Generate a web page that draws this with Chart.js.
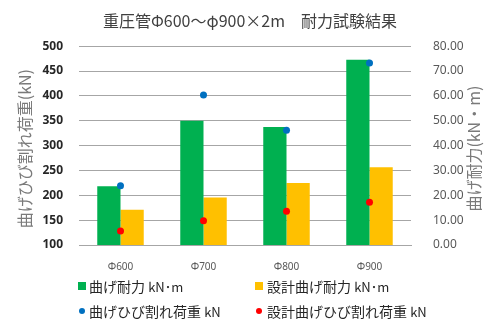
<!DOCTYPE html>
<html>
<head>
<meta charset="utf-8">
<script src="https://cdn.jsdelivr.net/npm/chart.js@4/dist/chart.umd.min.js"></script>
<style>
  body { margin: 0; background: #fff; }
  #wrap { position: relative; width: 500px; height: 328px; }
  .lg { position: absolute; font: 14px "Noto Sans CJK JP", sans-serif; color: #262626; white-space: nowrap; line-height: 16px; }
  .lg span { font-size: 13px; }
  .sq { position: absolute; width: 8px; height: 8px; }
  .dot { position: absolute; width: 6px; height: 6px; border-radius: 50%; }
</style>
</head>
<body>
<div id="wrap">
  <canvas id="chart" width="500" height="328"></canvas>
  <div class="sq" style="left:78px;top:282px;background:#00B050"></div>
  <div class="lg" style="left:89px;top:278px">曲げ耐力 <span>kN･m</span></div>
  <div class="sq" style="left:255px;top:282px;background:#FFC000"></div>
  <div class="lg" style="left:267px;top:278px">設計曲げ耐力 <span>kN･m</span></div>
  <div class="dot" style="left:79px;top:308px;background:#0070C0"></div>
  <div class="lg" style="left:89px;top:303px">曲げひび割れ荷重 <span>kN</span></div>
  <div class="dot" style="left:256px;top:308px;background:#FF0000"></div>
  <div class="lg" style="left:267px;top:303px">設計曲げひび割れ荷重 <span>kN</span></div>
</div>
<script>
const categories = ["Φ600", "Φ700", "Φ800", "Φ900"];
// kN・m (right axis)
const bendStrength = [23.6, 50.0, 47.5, 74.5];
const designBendStrength = [14.2, 19.1, 25.0, 31.3];
// kN (left axis)
const crackLoad = [219, 402, 331, 466];
const designCrackLoad = [128, 149, 168, 186];

const leftMin = 100, leftMax = 500, leftStep = 50;
const rightMin = 0, rightMax = 80, rightStep = 10;

// rotated axis titles, both reading bottom to top
const axisTitles = {
  id: "axisTitles",
  afterDraw(chart) {
    const { ctx, chartArea } = chart;
    const mid = (chartArea.top + chartArea.bottom) / 2 + 3;
    ctx.save();
    ctx.font = '16px "Noto Sans CJK JP"';
    ctx.fillStyle = "#7a7a7a";
    ctx.textAlign = "center";
    ctx.textBaseline = "middle";
    [[25, "曲げひび割れ荷重(kN)"], [474, "曲げ耐力(kN・m)"]].forEach(([x, t]) => {
      ctx.save();
      ctx.translate(x, mid);
      ctx.rotate(-Math.PI / 2);
      ctx.fillText(t, 0, 0);
      ctx.restore();
    });
    ctx.restore();
  }
};

new Chart(document.getElementById("chart"), {
  type: "bar",
  data: {
    labels: categories,
    datasets: [
      {
        type: "line",
        label: "曲げひび割れ荷重 kN",
        data: crackLoad,
        yAxisID: "y",
        showLine: false,
        pointRadius: 3.5,
        pointBackgroundColor: "#0070C0",
        pointBorderWidth: 0
      },
      {
        type: "line",
        label: "設計曲げひび割れ荷重 kN",
        data: designCrackLoad,
        yAxisID: "y",
        showLine: false,
        pointRadius: 3.5,
        pointBackgroundColor: "#FF0000",
        pointBorderWidth: 0
      },
      {
        label: "曲げ耐力 kN・m",
        data: bendStrength,
        yAxisID: "y1",
        backgroundColor: "#00B050",
        barPercentage: 1,
        categoryPercentage: 0.56
      },
      {
        label: "設計曲げ耐力 kN・m",
        data: designBendStrength,
        yAxisID: "y1",
        backgroundColor: "#FFC000",
        barPercentage: 1,
        categoryPercentage: 0.56
      }
    ]
  },
  options: {
    responsive: false,
    animation: false,
    layout: { padding: 0 },
    plugins: {
      legend: { display: false },
      tooltip: { enabled: false },
      title: {
        display: true,
        text: "重圧管Φ600～φ900×2m　耐力試験結果",
        color: "#404040",
        font: { family: "Noto Sans CJK JP", size: 16, weight: "normal" },
        padding: { top: 11, bottom: 16 }
      }
    },
    scales: {
      x: {
        grid: { display: false },
        border: { display: true, color: "#a6a6a6" },
        ticks: {
          color: "#595959",
          padding: 8,
          font: { family: "Noto Sans", size: 10 }
        },
        afterFit: (s) => { s.height = 83; }
      },
      y: {
        position: "left",
        min: leftMin,
        max: leftMax,
        ticks: {
          stepSize: leftStep,
          color: "#262626",
          padding: 16,
          font: { family: "Noto Sans", size: 12, weight: "bold" }
        },
        grid: { color: "#a6a6a6", drawTicks: false },
        border: { display: false },
        afterFit: (s) => { s.width = 79; }
      },
      y1: {
        position: "right",
        min: rightMin,
        max: rightMax,
        ticks: {
          stepSize: rightStep,
          color: "#595959",
          padding: 14,
          font: { family: "Noto Sans", size: 12 },
          callback: (v) => v.toFixed(2)
        },
        grid: { display: false },
        border: { display: false },
        afterFit: (s) => { s.width = 89; }
      }
    }
  },
  plugins: [axisTitles]
});
</script>
</body>
</html>
